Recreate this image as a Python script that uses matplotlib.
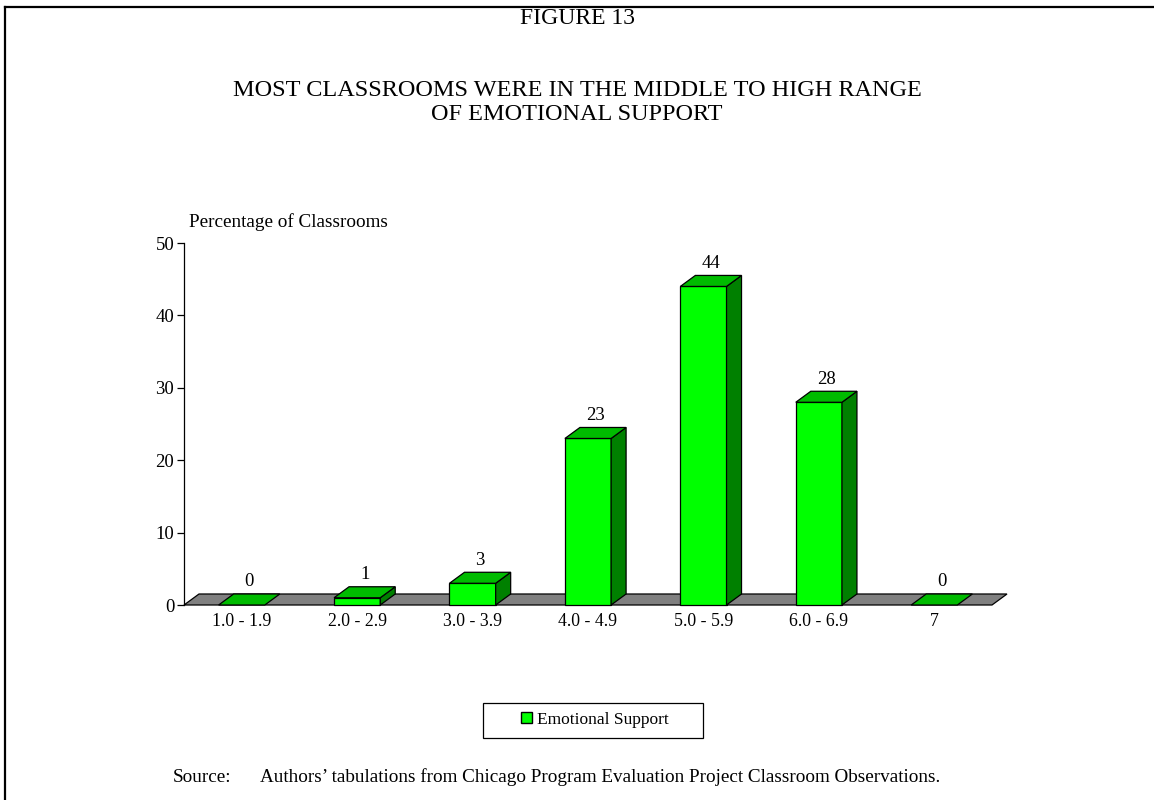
import matplotlib
matplotlib.use("Agg")
import matplotlib.pyplot as plt
from matplotlib.patches import Polygon, Rectangle, Patch
from matplotlib.lines import Line2D

plt.rcParams["font.family"] = ["Liberation Serif", "DejaVu Serif"]

CATEGORIES = ["1.0 - 1.9", "2.0 - 2.9", "3.0 - 3.9", "4.0 - 4.9", "5.0 - 5.9", "6.0 - 6.9", "7"]
VALUES     = [0, 1, 3, 23, 44, 28, 0]
SERIES     = "Emotional Support"

FRONT = "#00FF00"
TOP   = "#00BB00"
SIDE  = "#008000"
FLOOR = "#808080"

W, H, DPI = 1154, 800, 100
BAR_W = 0.4      # bar width in category units
DX, DY = 0.13, 1.52   # 3d depth offset (x in category units, y in data units)


def poly(ax, pts, color, z=2):
    ax.add_patch(Polygon(pts, closed=True, facecolor=color, edgecolor="black",
                         linewidth=0.9, clip_on=False, zorder=z))


def main():
    fig = plt.figure(figsize=(W / DPI, H / DPI), dpi=DPI)
    ax = fig.add_axes([184 / W, 1 - 605 / H, 808 / W, 362 / H])
    n = len(CATEGORIES)
    ax.set_xlim(0, n)
    ax.set_ylim(0, 50)

    # floor
    poly(ax, [(0, 0), (n, 0), (n + DX, DY), (DX, DY)], FLOOR, z=1)

    for i, v in enumerate(VALUES):
        x0 = i + 0.5 - BAR_W / 2
        x1 = x0 + BAR_W
        if v > 0:
            poly(ax, [(x0, 0), (x1, 0), (x1, v), (x0, v)], FRONT)
            poly(ax, [(x1, 0), (x1 + DX, DY), (x1 + DX, v + DY), (x1, v)], SIDE)
        poly(ax, [(x0, v), (x1, v), (x1 + DX, v + DY), (x0 + DX, v + DY)], TOP)
        ax.text(i + 0.5 + DX / 2, v + DY + 0.5, f"{v}", ha="center", va="bottom",
                fontsize=13.5)

    for s in ["top", "right", "bottom"]:
        ax.spines[s].set_visible(False)
    ax.spines["left"].set_linewidth(0.9)
    ax.set_yticks(range(0, 51, 10))
    ax.tick_params(axis="y", length=5, width=0.9, labelsize=13.5, pad=2)
    ax.set_xticks([i + 0.5 for i in range(n)])
    ax.set_xticklabels(CATEGORIES)
    ax.tick_params(axis="x", length=0, labelsize=12.8, pad=6)

    fig.text(189 / W, 1 - 222 / H, "Percentage of Classrooms", fontsize=13.8,
             ha="left", va="center")
    fig.text(0.5, 1 - 18 / H, "FIGURE 13", fontsize=17, ha="center", va="center")
    fig.text(0.5, 1 - 90 / H, "MOST CLASSROOMS WERE IN THE MIDDLE TO HIGH RANGE",
             fontsize=17.5, ha="center", va="center")
    fig.text(0.5, 1 - 115 / H, "OF EMOTIONAL SUPPORT",
             fontsize=17.5, ha="center", va="center")

    # legend box
    fig.patches.append(Rectangle((483 / W, 1 - 738 / H), 220 / W, 35 / H,
                                 transform=fig.transFigure, facecolor="white",
                                 edgecolor="black", linewidth=0.9))
    fig.legend(handles=[Patch(facecolor=FRONT, edgecolor="black", label=SERIES)],
               loc="center", bbox_to_anchor=(595 / W, 1 - 720 / H), frameon=False,
               fontsize=12.5, handlelength=0.6, handleheight=0.6, handletextpad=0.3)

    fig.text(173 / W, 1 - 777 / H, "Source:", fontsize=13.8, ha="left", va="center")
    fig.text(260 / W, 1 - 777 / H,
             "Authors\u2019 tabulations from Chicago Program Evaluation Project Classroom Observations.",
             fontsize=13.8, ha="left", va="center")

    # page frame (top and left edges)
    fig.lines.append(Line2D([5 / W, 1], [1 - 7 / H, 1 - 7 / H], transform=fig.transFigure,
                            color="black", linewidth=1.6))
    fig.lines.append(Line2D([5 / W, 5 / W], [0, 1 - 7 / H], transform=fig.transFigure,
                            color="black", linewidth=1.6))

    fig.savefig("out.png", dpi=DPI, facecolor="white")


if __name__ == "__main__":
    main()
